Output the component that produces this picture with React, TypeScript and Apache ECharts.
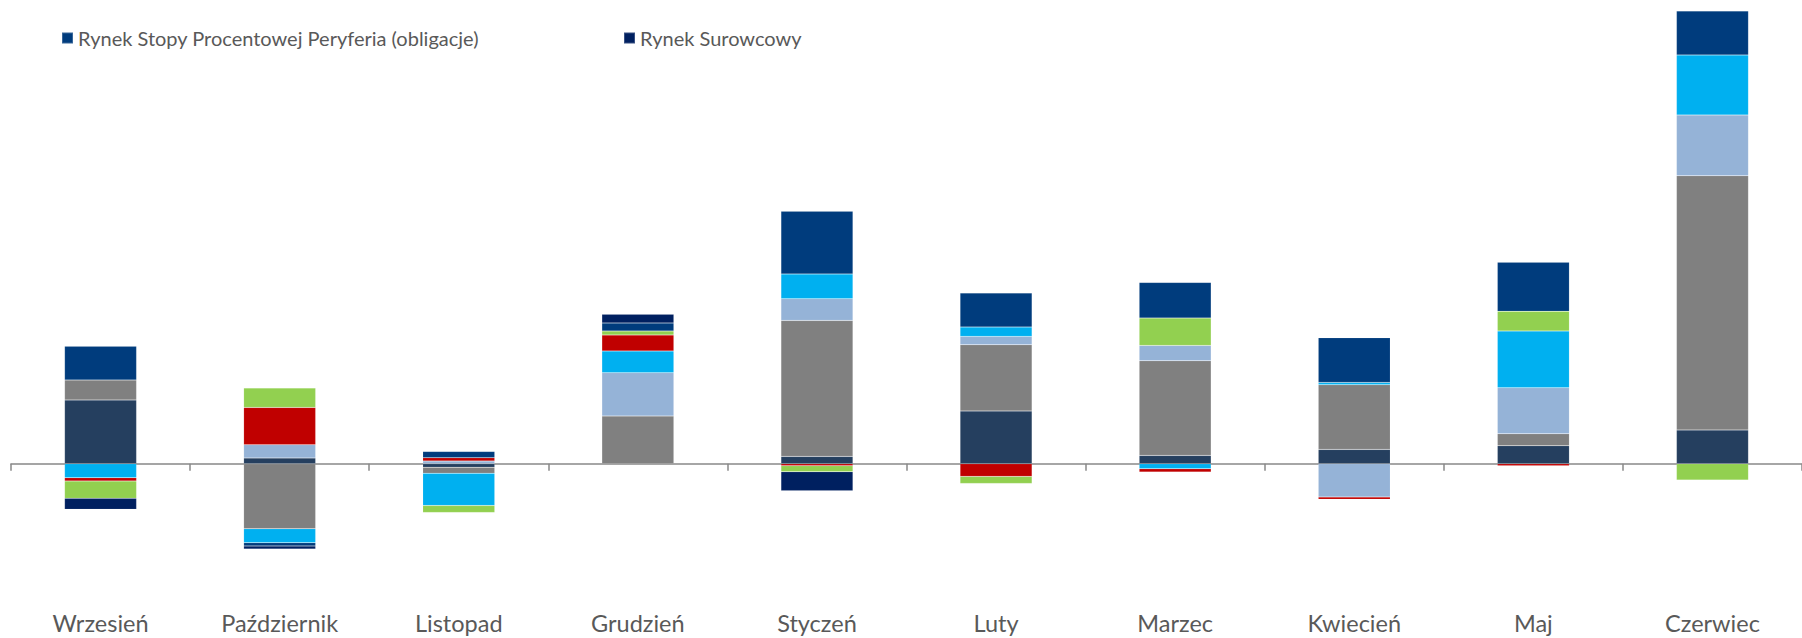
import React, { useEffect, useRef } from "react";
import * as echarts from "echarts";

const categories = ["Wrzesień", "Październik", "Listopad", "Grudzień", "Styczeń", "Luty", "Marzec", "Kwiecień", "Maj", "Czerwiec"];

const seriesNames = [
  "Seria A",
  "Seria B",
  "Seria C",
  "Seria D",
  "Seria E",
  "Seria F",
  "Rynek Stopy Procentowej Peryferia (obligacje)",
  "Rynek Surowcowy",
];

const slateValues = [6.37, 0.57, -0.35, 0, 0.73, 5.27, 0.83, 1.43, 1.8, 3.37];
const grayValues = [2.0, -6.5, -0.6, 4.77, 13.6, 6.63, 9.47, 6.47, 1.2, 25.43];
const lightBlueValues = [0, 1.33, 0.27, 4.33, 2.17, 0.83, 1.53, -3.33, 4.6, 6.07];
const cyanValues = [-1.4, -1.4, -3.23, 2.17, 2.47, 0.93, -0.5, 0.23, 5.67, 6.0];
const redValues = [-0.33, 3.73, 0.33, 1.6, -0.2, -1.27, -0.33, -0.23, -0.2, 0];
const greenValues = [-1.73, 1.93, -0.7, 0.4, -0.6, -0.7, 2.73, 0, 1.97, -1.63];
const peryferiaValues = [3.37, -0.33, 0.63, 0.8, 6.27, 3.4, 3.57, 4.47, 4.9, 4.4];
const surowcowyValues = [-1.1, -0.3, 0, 0.87, -1.9, 0, 0, 0, 0, 0];

const allValues = [slateValues, grayValues, lightBlueValues, cyanValues, redValues, greenValues, peryferiaValues, surowcowyValues];
const colors = ["#253F5F", "#808080", "#95B3D7", "#00B0F0", "#C00000", "#92D050", "#003C7D", "#002060"];

const FONT = "Lato";

export default function App() {
  const ref = useRef<HTMLDivElement>(null);
  useEffect(() => {
    if (!ref.current) return;
    const chart = echarts.init(ref.current, null, { renderer: "svg" });
    const series = allValues.map((vals, i) => ({
      name: seriesNames[i],
      type: "bar",
      stack: "total",
      barWidth: 72,
      xAxisIndex: 0,
      yAxisIndex: 0,
      itemStyle: { color: colors[i], borderColor: "rgba(255,255,255,0.22)", borderWidth: 0.5 },
      emphasis: { disabled: true },
      data: vals.map((v) => (v === 0 ? null : v)),
    }));
    const legendText = { color: "#595959", fontSize: 20, fontFamily: FONT };
    chart.setOption({
      animation: false,
      grid: { left: 11, top: 3.7, width: 1800, height: 560, containLabel: false },
      legend: [
        {
          data: [seriesNames[6]],
          left: 61,
          top: 28,
          icon: "rect",
          itemWidth: 11,
          itemHeight: 11,
          padding: 0,
          textStyle: legendText,
          selectedMode: false,
        },
        {
          data: [seriesNames[7]],
          left: 623,
          top: 28,
          icon: "rect",
          itemWidth: 11,
          itemHeight: 11,
          padding: 0,
          textStyle: legendText,
          selectedMode: false,
        },
      ],
      xAxis: [
        {
          type: "category",
          data: categories,
          position: "bottom",
          axisLine: { show: true, onZero: true, lineStyle: { color: "#888888", width: 1.5 } },
          axisTick: { show: true, length: 7, lineStyle: { color: "#888888", width: 1.5 } },
          axisLabel: { show: false },
          splitLine: { show: false },
        },
        {
          type: "category",
          data: categories,
          position: "bottom",
          axisLine: { show: false, onZero: false },
          axisTick: { show: false },
          axisLabel: { show: true, color: "#595959", fontSize: 23.5, fontFamily: FONT, margin: 47 },
          splitLine: { show: false },
        },
      ],
      yAxis: {
        type: "value",
        min: -10,
        max: 46,
        axisLine: { show: false },
        axisTick: { show: false },
        axisLabel: { show: false },
        splitLine: { show: false },
      },
      series,
    });
    return () => chart.dispose();
  }, []);
  return <div ref={ref} style={{ position: "fixed", left: 0, top: 0, width: 1802, height: 638, background: "#fff" }} />;
}
